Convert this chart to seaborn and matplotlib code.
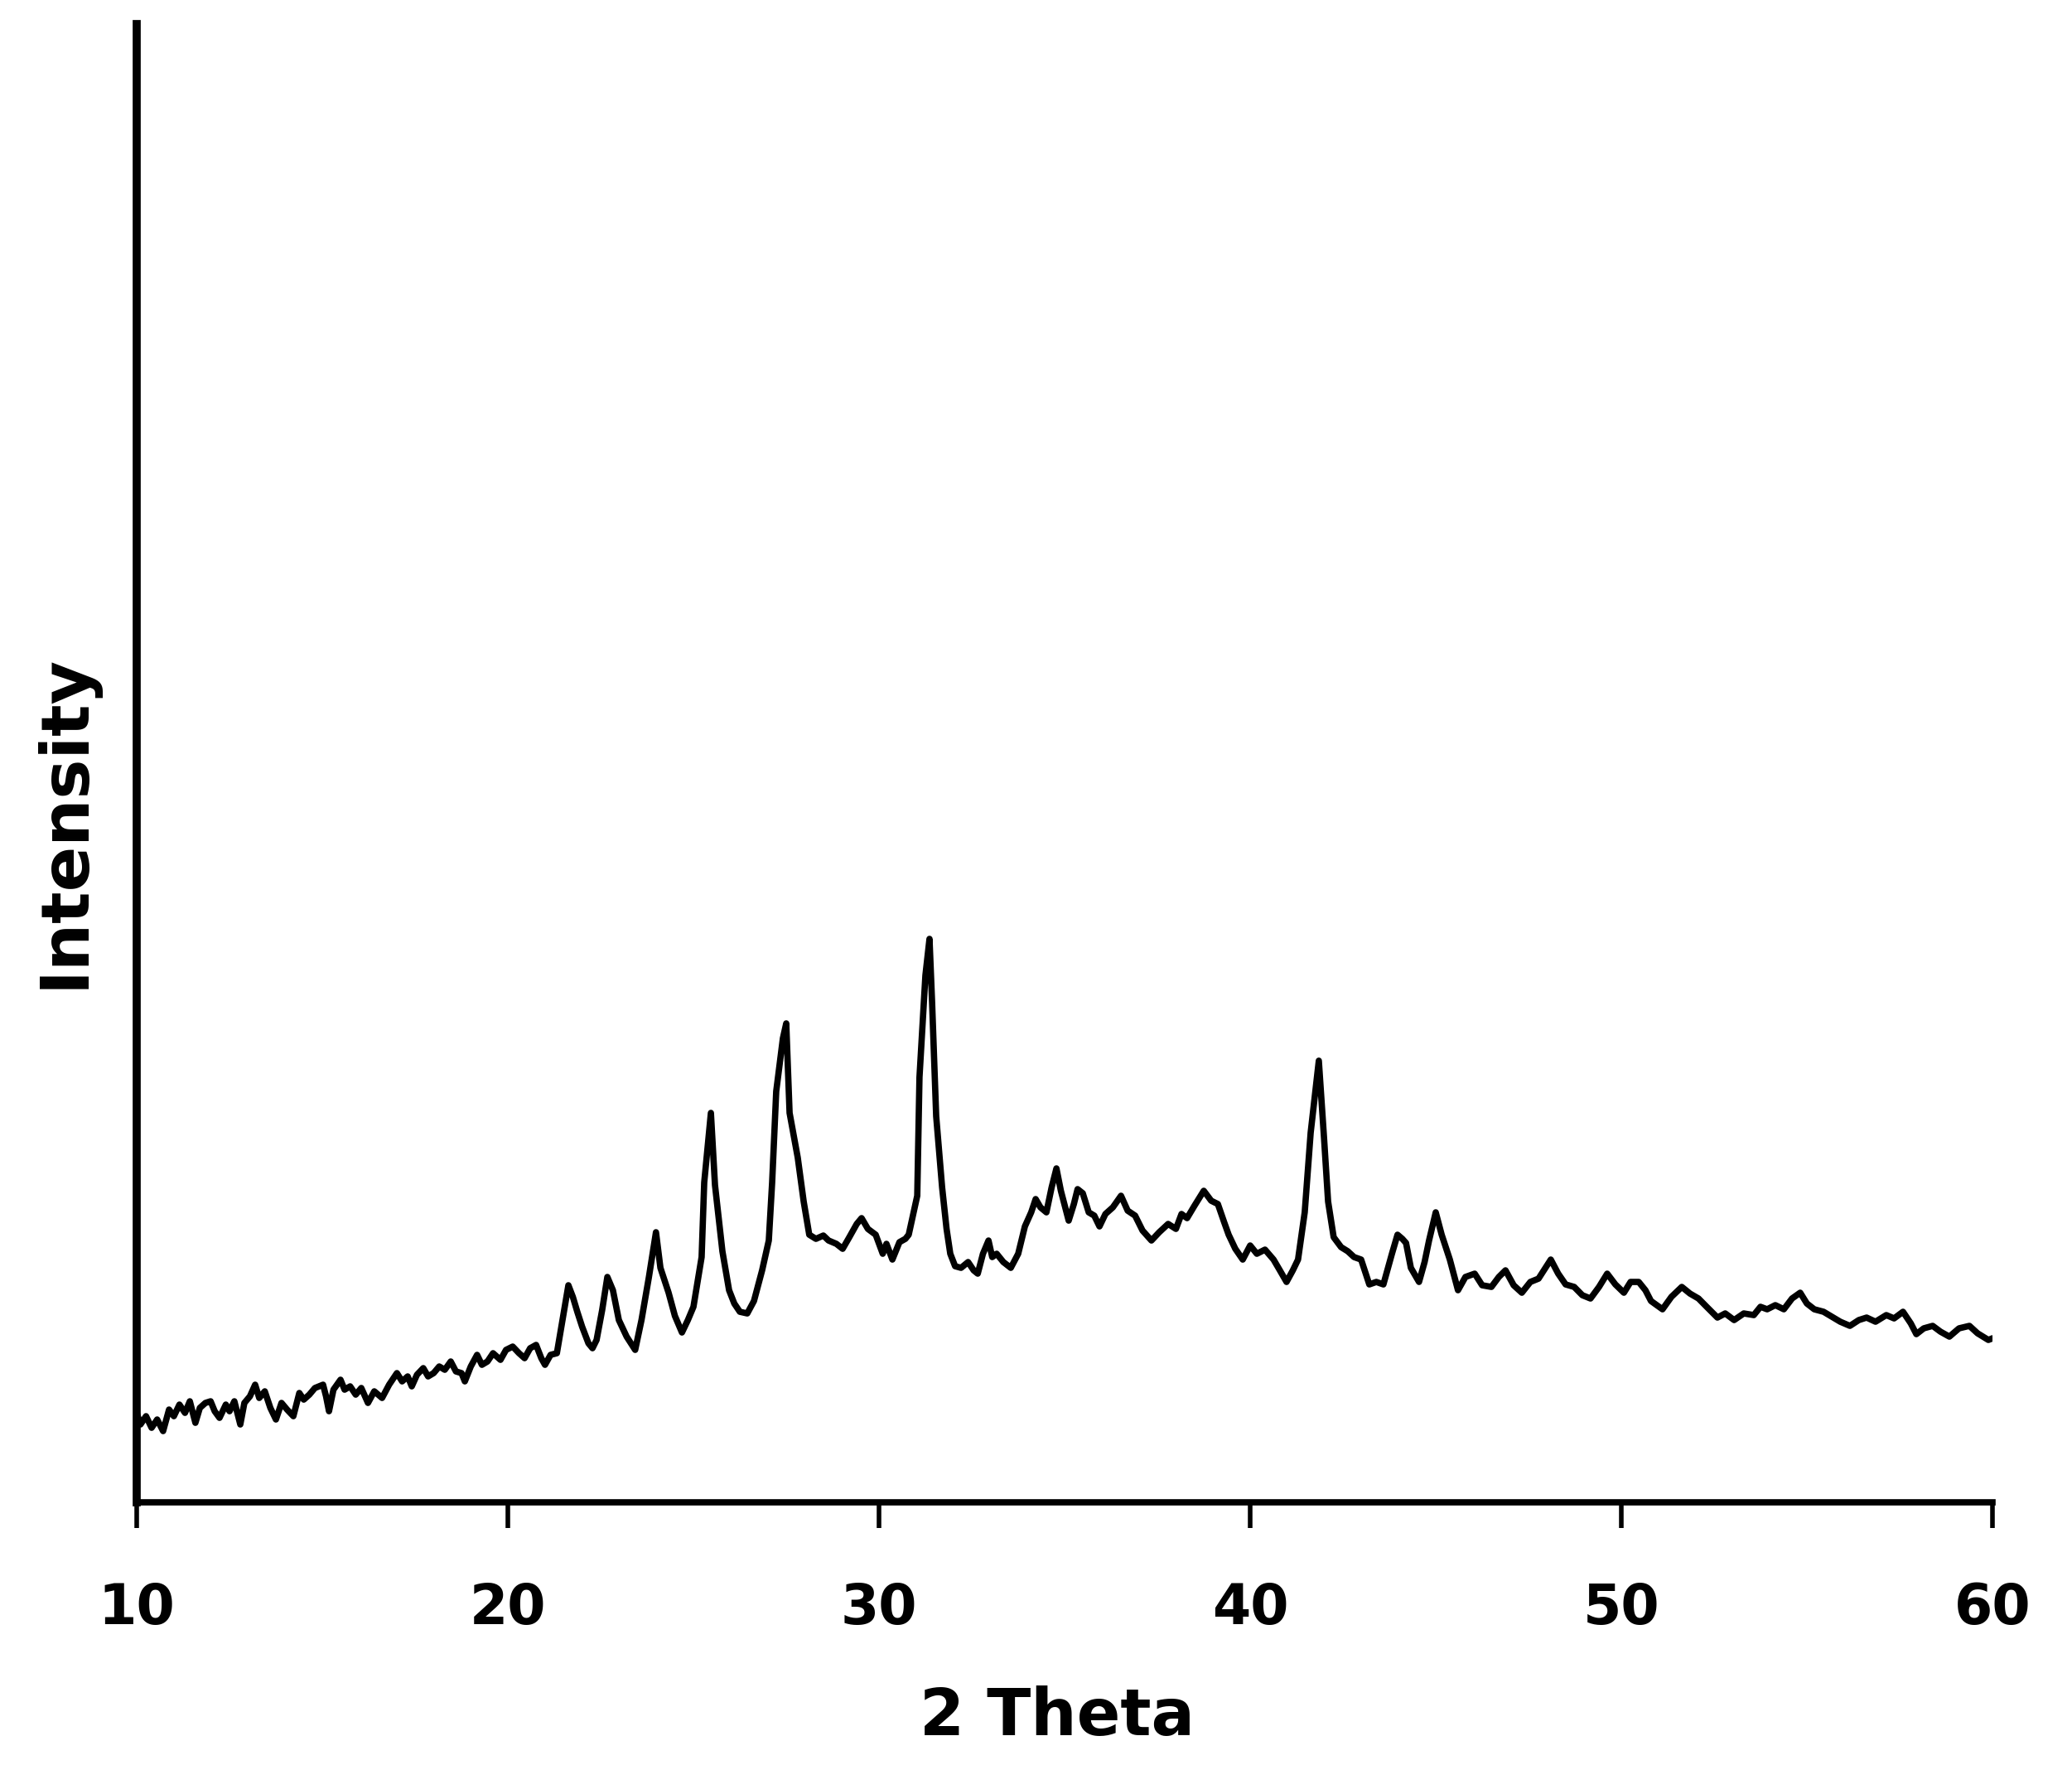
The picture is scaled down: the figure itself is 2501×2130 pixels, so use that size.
import matplotlib
matplotlib.use("Agg")
import matplotlib.pyplot as plt
import seaborn as sns
import pandas as pd

# XRD pattern (intensity in arbitrary units)
two_theta = [
    10.0, 10.1, 10.25, 10.4, 10.55, 10.71, 10.87, 11.0, 11.15, 11.3,
    11.43, 11.58, 11.7, 11.85, 11.99, 12.1, 12.23, 12.4, 12.5, 12.63,
    12.79, 12.9, 13.05, 13.19, 13.3, 13.45, 13.6, 13.75, 13.9, 14.05,
    14.22, 14.38, 14.5, 14.65, 14.8, 15.02, 15.1, 15.18, 15.3, 15.49,
    15.6, 15.75, 15.9, 16.05, 16.23, 16.4, 16.61, 16.8, 17.01, 17.15,
    17.3, 17.41, 17.55, 17.72, 17.85, 18.0, 18.15, 18.3, 18.46, 18.6,
    18.75, 18.84, 19.0, 19.17, 19.3, 19.45, 19.6, 19.8, 19.95, 20.13,
    20.3, 20.45, 20.6, 20.76, 20.9, 21.0, 21.15, 21.32, 21.47, 21.63,
    21.75, 21.87, 22.0, 22.17, 22.28, 22.39, 22.54, 22.68, 22.83, 22.99,
    23.2, 23.43, 23.6, 23.8, 23.99, 24.11, 24.33, 24.5, 24.69, 24.85,
    25.0, 25.22, 25.29, 25.47, 25.58, 25.78, 25.96, 26.1, 26.25, 26.45,
    26.63, 26.85, 27.03, 27.12, 27.23, 27.41, 27.5, 27.59, 27.81, 27.97,
    28.12, 28.3, 28.5, 28.64, 28.85, 29.02, 29.2, 29.4, 29.53, 29.7,
    29.91, 30.1, 30.2, 30.36, 30.55, 30.71, 30.8, 31.03, 31.09, 31.25,
    31.36, 31.43, 31.54, 31.7, 31.82, 31.92, 32.05, 32.21, 32.4, 32.55,
    32.66, 32.8, 32.95, 33.05, 33.17, 33.35, 33.55, 33.75, 33.93, 34.1,
    34.22, 34.35, 34.51, 34.65, 34.78, 34.9, 35.11, 35.25, 35.35, 35.49,
    35.65, 35.8, 35.94, 36.1, 36.3, 36.52, 36.7, 36.9, 37.1, 37.34,
    37.55, 37.79, 38.0, 38.15, 38.3, 38.5, 38.75, 38.95, 39.13, 39.3,
    39.42, 39.6, 39.8, 40.0, 40.18, 40.4, 40.63, 40.8, 40.98, 41.15,
    41.29, 41.47, 41.63, 41.85, 41.99, 42.1, 42.25, 42.45, 42.63, 42.8,
    42.99, 43.21, 43.4, 43.59, 43.82, 43.97, 44.1, 44.2, 44.33, 44.55,
    44.7, 44.82, 45.0, 45.16, 45.38, 45.6, 45.8, 46.05, 46.25, 46.5,
    46.7, 46.88, 47.1, 47.32, 47.55, 47.77, 48.1, 48.3, 48.5, 48.73,
    48.95, 49.17, 49.4, 49.62, 49.84, 50.07, 50.25, 50.47, 50.65, 50.8,
    51.11, 51.35, 51.63, 51.85, 52.08, 52.3, 52.59, 52.8, 53.04, 53.3,
    53.57, 53.75, 53.93, 54.15, 54.38, 54.6, 54.82, 55.0, 55.2, 55.45,
    55.71, 55.9, 56.16, 56.4, 56.61, 56.85, 57.14, 57.35, 57.59, 57.8,
    57.95, 58.15, 58.39, 58.6, 58.84, 59.1, 59.38, 59.6, 59.89, 60.0,
]
intensity = [
    108, 94, 104, 90, 100, 86, 112, 104, 118, 108,
    122, 96, 114, 120, 122, 110, 102, 118, 110, 122,
    94, 120, 128, 142, 126, 134, 114, 100, 120, 112,
    104, 132, 124, 130, 138, 142, 128, 110, 136, 148,
    136, 140, 130, 138, 120, 134, 126, 142, 156, 146,
    152, 140, 154, 162, 152, 156, 164, 160, 170, 158,
    156, 146, 164, 178, 166, 170, 180, 172, 184, 188,
    180, 174, 186, 190, 174, 166, 178, 180, 220, 262,
    248, 230, 212, 192, 186, 196, 232, 272, 256, 220,
    200, 184, 220, 272, 326, 283, 253, 225, 205, 220,
    236, 296, 386, 470, 383, 303, 256, 240, 230, 228,
    243, 280, 316, 386, 496, 560, 578, 470, 416, 363,
    323, 318, 322, 316, 312, 306, 320, 336, 343, 330,
    323, 300, 312, 293, 314, 318, 323, 370, 513, 636,
    680, 603, 466, 380, 330, 300, 285, 283, 290, 280,
    276, 300, 316, 296, 300, 290, 283, 300, 333, 350,
    366, 356, 350, 380, 403, 376, 340, 360, 378, 373,
    350, 346, 333, 348, 356, 370, 352, 346, 328, 316,
    326, 336, 330, 348, 343, 358, 376, 364, 360, 338,
    323, 306, 293, 310, 300, 305, 293, 280, 266, 280,
    293, 350, 446, 533, 440, 363, 320, 308, 303, 296,
    293, 263, 266, 263, 300, 323, 318, 313, 283, 266,
    290, 316, 350, 323, 293, 256, 272, 276, 262, 260,
    272, 280, 262, 253, 266, 270, 293, 276, 263, 260,
    250, 246, 260, 276, 263, 253, 266, 266, 256, 243,
    233, 248, 260, 252, 246, 236, 223, 228, 220, 228,
    226, 236, 233, 238, 233, 246, 253, 240, 233, 230,
    223, 218, 213, 220, 223, 218, 226, 222, 230, 216,
    203, 210, 213, 206, 200, 210, 213, 204, 196, 198,
]
x_ticks = [10, 20, 30, 40, 50, 60]

df = pd.DataFrame({"two_theta": two_theta, "intensity": intensity})

sns.set_style("ticks")
plt.rcParams["font.family"] = ["DejaVu Sans"]
plt.rcParams["text.color"] = "black"
plt.rcParams["axes.labelcolor"] = "black"
plt.rcParams["xtick.color"] = "black"

fig = plt.figure(figsize=(25.01, 21.30), dpi=100)
ax = fig.add_axes([0.066, 0.1488, 0.8956, 0.8376])

sns.lineplot(data=df, x="two_theta", y="intensity", color="black",
             linewidth=5.5, estimator=None, sort=False, ax=ax)

ax.set_xlim(10, 60)
ax.set_ylim(0, 1784)
ax.set_xticks(x_ticks)
ax.set_xticklabels([str(t) for t in x_ticks], fontsize=48, fontweight="bold",
                   color="black")
ax.set_yticks([])

ax.tick_params(axis="x", direction="out", length=22, width=4, pad=46,
               color="black", labelcolor="black")

for side in ["top", "right"]:
    ax.spines[side].set_visible(False)
ax.spines["left"].set_linewidth(7)
ax.spines["bottom"].set_linewidth(5.5)
ax.spines["left"].set_color("black")
ax.spines["bottom"].set_color("black")

ax.set_xlabel("2 Theta", fontsize=56, fontweight="bold", color="black")
ax.set_ylabel("Intensity", fontsize=58, fontweight="bold", color="black")
ax.xaxis.set_label_coords(0.496, -0.124)
ax.yaxis.set_label_coords(-0.0214, 0.461)

fig.savefig("out.png", dpi=100, facecolor="white")
